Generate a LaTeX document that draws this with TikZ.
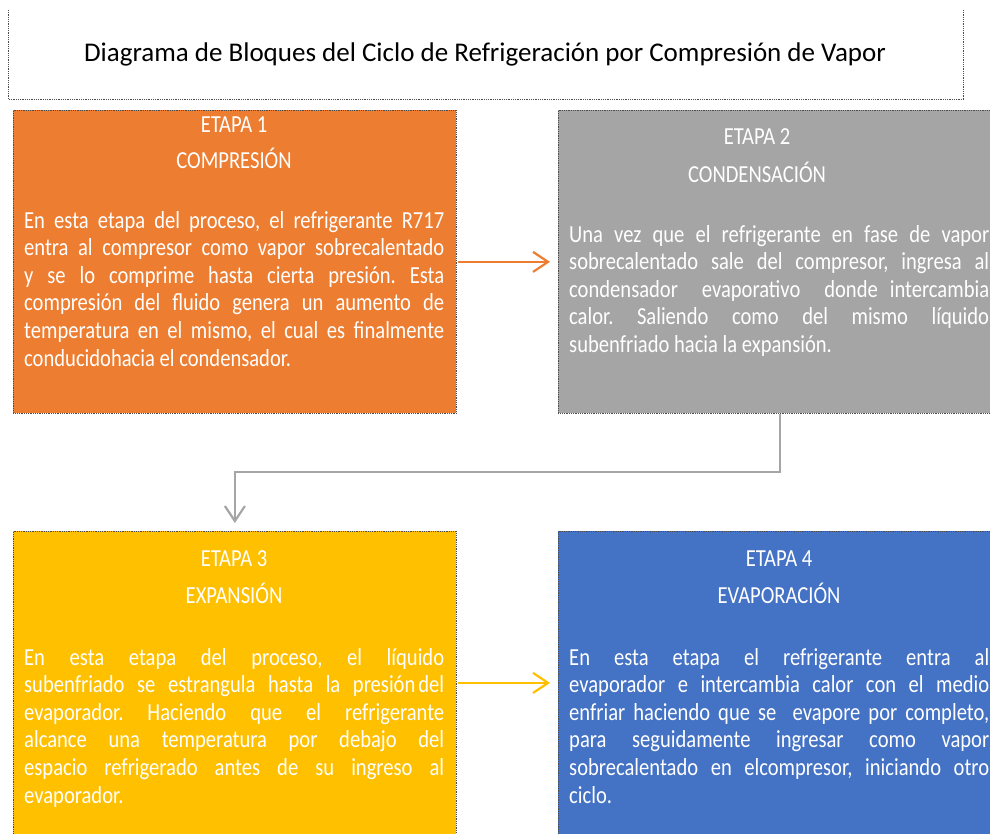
\documentclass[tikz,border=0pt]{standalone}
\usepackage{fontspec}
\setmainfont[FakeStretch=0.84]{Carlito}
\newfontfamily\titulofont{Carlito}
\usetikzlibrary{arrows.meta}
\definecolor{naranja}{HTML}{ED7D31}
\definecolor{gris}{HTML}{A5A5A5}
\definecolor{amarillo}{HTML}{FFC000}
\definecolor{azul}{HTML}{4472C4}
\frenchspacing
\tikzset{
  caja/.style={draw=black!70, densely dotted, line width=.8pt, minimum width=443pt, minimum height=303pt, inner sep=0pt, anchor=north west},
  texto/.style={text=white, anchor=base west, text width=420pt, align=justify, inner sep=0pt, font=\fontsize{24.5}{27.6}\selectfont},
  etapa/.style={text=white, anchor=base, inner sep=0pt, font=\fontsize{24.5}{28}\selectfont},
  flecha/.style={line width=2.2pt, -{Straight Barb[length=15pt, width=20pt, line width=2.2pt]}}
}
\begin{document}
\begin{tikzpicture}[x=1pt, y=-1pt]
\clip (0,0) rectangle (990,833);
\draw[densely dotted, black!70, line width=.8pt] (8,10) -- (8,99) -- (963,99) -- (963,10);
\node (titulo) at (485,61)[anchor=base, inner sep=0pt]{\titulofont\fontsize{27}{30}\selectfont Diagrama de Bloques del Ciclo de Refrigeración por Compresión de Vapor};

\foreach \n/\x/\y/\col in {1/13/110/naranja, 2/558/110/gris, 3/13/531/amarillo, 4/558/531/azul}
  \node (E\n) at (\x,\y)[caja, fill=\col]{};

\foreach \n/\x/\ya/\yb/\nom in {1/234/132/168/COMPRESIÓN, 2/757/144/182/CONDENSACIÓN, 3/234/566/603/EXPANSIÓN, 4/779/566/603/EVAPORACIÓN}
{
  \node (T\n) at (\x,\ya)[etapa]{ETAPA \n};
  \node (N\n) at (\x,\yb)[etapa]{\nom};
}

\node (D1) at (24,228)[texto]{En esta etapa del proceso, el refrigerante R717\linebreak entra al compresor como vapor sobrecalentado\linebreak y se lo comprime hasta cierta presión. Esta\linebreak compresión del fluido genera un aumento de\linebreak temperatura en el mismo, el cual es finalmente\linebreak conducidohacia el condensador.};
\node (D2) at (569,242)[texto]{Una vez que el refrigerante en fase de vapor\linebreak sobrecalentado sale del compresor, ingresa al\linebreak condensador \ evaporativo \ donde intercambia\linebreak calor. Saliendo como del mismo líquido\linebreak subenfriado hacia la expansión.};
\node (D3) at (24,665)[texto]{En esta etapa del proceso, el líquido\linebreak subenfriado se estrangula hasta la presión\hspace{3pt}del\linebreak evaporador. Haciendo que el refrigerante\linebreak alcance una temperatura por debajo del\linebreak espacio refrigerado antes de su ingreso al\linebreak evaporador.};
\node (D4) at (569,665)[texto]{En esta etapa el refrigerante entra al\linebreak evaporador e intercambia calor con el medio\linebreak enfriar haciendo que se \ evapore por completo,\linebreak para seguidamente ingresar como vapor\linebreak sobrecalentado en elcompresor, iniciando otro\linebreak ciclo.};

\draw[flecha, naranja, shorten <=1pt, shorten >=8pt] (E1.east) -- (E2.west);
\draw[flecha, amarillo, shorten <=1pt, shorten >=8pt] (E3.east) -- (E4.west);
\draw[flecha, gris, line width=2pt, shorten >=8pt] (E2.south) -- ++(0,58) -| (E3.north);
\end{tikzpicture}
\end{document}
